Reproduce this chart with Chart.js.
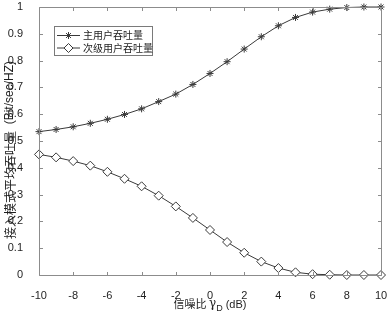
<!DOCTYPE html>
<html><head><meta charset="utf-8">
<script src="https://cdn.jsdelivr.net/npm/chart.js@4/dist/chart.umd.min.js"></script>
<style>html,body{margin:0;padding:0;background:#fff}#wrap{width:390px;height:316px}</style>
</head><body><div id="wrap"><canvas id="c" width="390" height="316"></canvas></div>
<script>
const snr = [-10,-9,-8,-7,-6,-5,-4,-3,-2,-1,0,1,2,3,4,5,6,7,8,9,10];
const primaryThroughput = [0.535,0.543,0.553,0.566,0.581,0.599,0.620,0.647,0.675,0.711,0.752,0.796,0.843,0.889,0.930,0.961,0.981,0.992,0.998,1.0,1.0];
const secondaryThroughput = [0.450,0.439,0.425,0.408,0.385,0.359,0.331,0.296,0.256,0.213,0.168,0.123,0.083,0.050,0.026,0.010,0.003,0.001,0.0,0.0,0.0];
const xTicks = [-10,-8,-6,-4,-2,0,2,4,6,8,10];
const yTicks = [0,0.1,0.2,0.3,0.4,0.5,0.6,0.7,0.8,0.9,1];
const seriesNames = ['主用户吞吐量','次级用户吞吐量'];
const xTitleMain = '信噪比 ';
const xTitleSym = 'γ';
const xTitleSub = 'D';
const xTitleUnit = ' (dB)';
const yTitleCn = '接入模式平均吞吐量';
const yTitleUnit = '  (Bit/sec/HZ)';

const LINE = '#3a3a3a';
const AXIS = '#8c8c8c';
const TXT = '#1e1e1e';
const CJK = '"Noto Sans CJK SC", sans-serif';
const LAT = '"Liberation Sans", Arial, sans-serif';

const boxPlugin = {
  id: 'box',
  afterDatasetsDraw(chart) {
    const {ctx, chartArea: a, scales: {x, y}} = chart;
    ctx.save();
    ctx.strokeStyle = AXIS;
    ctx.lineWidth = 1;
    ctx.beginPath();
    const L = Math.round(a.left)+0.5, R = Math.round(a.right)+0.5, T = Math.round(a.top)+0.5, B = Math.round(a.bottom)+0.5;
    ctx.rect(L, T, R-L, B-T);
    const tl = 3.5;
    xTicks.forEach(v => {
      const px = Math.round(x.getPixelForValue(v))+0.5;
      ctx.moveTo(px, B); ctx.lineTo(px, B-tl);
      ctx.moveTo(px, T); ctx.lineTo(px, T+tl);
    });
    yTicks.forEach(v => {
      const py = Math.round(y.getPixelForValue(v))+0.5;
      ctx.moveTo(L, py); ctx.lineTo(L+tl, py);
      ctx.moveTo(R, py); ctx.lineTo(R-tl, py);
    });
    ctx.stroke();
    ctx.restore();
  },
  afterDraw(chart) {
    const {ctx, chartArea: a} = chart;
    ctx.save();
    // legend
    const bx = 54.5, by = 26.5, bw = 98, bh = 29;
    ctx.fillStyle = '#fff';
    ctx.fillRect(bx, by, bw, bh);
    ctx.strokeStyle = '#7a7a7a';
    ctx.lineWidth = 1;
    ctx.strokeRect(bx, by, bw, bh);
    const rows = [{y: 35.5, style: 'star', r: 3.5, fill: LINE}, {y: 48, style: 'rectRot', r: 4.5, fill: '#fff'}];
    rows.forEach((row, i) => {
      ctx.strokeStyle = LINE;
      ctx.lineWidth = 1;
      ctx.beginPath();
      ctx.moveTo(57, row.y); ctx.lineTo(80, row.y);
      ctx.stroke();
      ctx.fillStyle = row.fill;
      Chart.helpers.drawPoint(ctx, {pointStyle: row.style, radius: row.r, rotation: 0, borderWidth: 1}, 68.5, row.y);
      ctx.fillStyle = TXT;
      ctx.font = '10px ' + CJK;
      ctx.textBaseline = 'middle';
      ctx.textAlign = 'left';
      ctx.fillText(seriesNames[i], 83, row.y);
    });
    // x title
    ctx.fillStyle = TXT;
    ctx.textBaseline = 'alphabetic';
    ctx.textAlign = 'left';
    const fMain = '11px ' + CJK, fSym = '12px "DejaVu Serif", serif', fSub = '9px ' + LAT, fUnit = '11px ' + LAT;
    ctx.font = fMain; const w1 = ctx.measureText(xTitleMain).width;
    ctx.font = fSym; const w2 = ctx.measureText(xTitleSym).width;
    ctx.font = fSub; const w3 = ctx.measureText(xTitleSub).width;
    ctx.font = fUnit; const w4 = ctx.measureText(xTitleUnit).width;
    const total = w1 + w2 + w3 + w4;
    let cx = (a.left + a.right) / 2 - total / 2;
    const base = 308;
    ctx.font = fMain; ctx.fillText(xTitleMain, cx, base); cx += w1;
    ctx.font = fSym; ctx.fillText(xTitleSym, cx, base - 1); cx += w2;
    ctx.font = fSub; ctx.fillText(xTitleSub, cx, base + 3); cx += w3;
    ctx.font = fUnit; ctx.fillText(xTitleUnit, cx, base);
    // y title
    ctx.translate(10, 150);
    ctx.rotate(-Math.PI / 2);
    ctx.font = '12px ' + CJK; const v1 = ctx.measureText(yTitleCn).width;
    ctx.font = '12px ' + LAT; const v2 = ctx.measureText(yTitleUnit).width;
    let sx = -(v1 + v2) / 2;
    ctx.textBaseline = 'middle';
    ctx.font = '12px ' + CJK; ctx.fillText(yTitleCn, sx, 0); sx += v1;
    ctx.font = '12px ' + LAT; ctx.fillText(yTitleUnit, sx, 0);
    ctx.restore();
  }
};

const chart = new Chart(document.getElementById('c'), {
  type: 'line',
  data: {
    datasets: [
      {
        label: seriesNames[0],
        data: snr.map((v, i) => ({x: v, y: primaryThroughput[i]})),
        borderColor: LINE, backgroundColor: LINE, borderWidth: 1,
        pointStyle: 'star', pointRadius: 3.5, pointBorderColor: LINE, pointBorderWidth: 1,
        tension: 0, clip: false
      },
      {
        label: seriesNames[1],
        data: snr.map((v, i) => ({x: v, y: secondaryThroughput[i]})),
        borderColor: LINE, backgroundColor: '#fff', borderWidth: 1,
        pointStyle: 'rectRot', pointRadius: 4.5, pointBackgroundColor: '#fff', pointBorderColor: LINE, pointBorderWidth: 1,
        tension: 0, clip: false
      }
    ]
  },
  options: {
    responsive: false,
    animation: false,
    devicePixelRatio: 1,
    layout: {padding: {left: 0, top: 7, right: 9, bottom: 0}},
    plugins: {legend: {display: false}, tooltip: {enabled: false}},
    scales: {
      x: {
        type: 'linear', min: -10, max: 10,
        grid: {display: false}, border: {display: false},
        afterBuildTicks: s => { s.ticks = xTicks.map(v => ({value: v})); },
        afterFit: s => { s.height = 41; s.paddingLeft = 0; s.paddingRight = 0; },
        ticks: {color: TXT, font: {family: 'Liberation Sans', size: 11}, padding: 6, maxRotation: 0,
                callback: v => String(v)}
      },
      y: {
        type: 'linear', min: 0, max: 1,
        grid: {display: false}, border: {display: false},
        afterBuildTicks: s => { s.ticks = yTicks.map(v => ({value: v})); },
        afterFit: s => { s.width = 39; s.paddingTop = 0; s.paddingBottom = 0; },
        ticks: {color: TXT, font: {family: 'Liberation Sans', size: 11}, padding: 8,
                callback: v => String(Math.round(v * 10) / 10)}
      }
    }
  },
  plugins: [boxPlugin]
});
</script></body></html>
